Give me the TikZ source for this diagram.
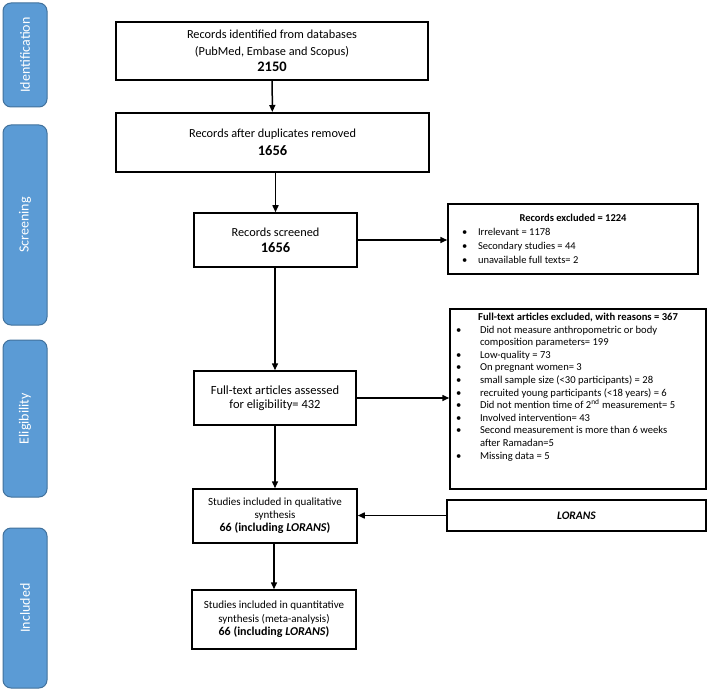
\documentclass[tikz,border=0pt]{standalone}
\usepackage{fontspec}
\setmainfont{Carlito}
\usetikzlibrary{arrows.meta}
\definecolor{phasefill}{HTML}{5B9BD5}
\definecolor{phaseline}{HTML}{41719C}
\newlength{\bulgap}
\setlength{\bulgap}{8pt}
\newcommand{\exitem}[1]{\par\hangindent=24pt\hangafter=1\noindent\hbox to 24pt{\hspace*{\bulgap}\textbullet\hss}#1}
\begin{document}
\begin{tikzpicture}[x=1pt,y=-1pt,line cap=butt,line join=miter,>={Triangle[length=7pt,width=6pt]}]
	\tikzset{phase/.style={draw=phaseline,fill=phasefill,line width=1pt,rounded corners=8pt,rotate=90,
			minimum height=44pt,text=white,font=\fontsize{14}{16}\selectfont},
		box/.style={draw,line width=1.5pt,align=center,inner sep=2pt},
		exbox/.style={draw,line width=1.5pt,inner xsep=6pt,inner ysep=0pt},
		link/.style={->,line width=1.5pt}
	}
	\useasboundingbox (0,0) rectangle (708,692);
	% phases
	\node[phase,minimum width=104pt] (pid) at (25,55) {Identification};
	\node[phase,minimum width=200pt] (psc) at (25,225) {Screening};
	\node[phase,minimum width=157pt] (pel) at (25,418.5) {Eligibility};
	\node[phase,minimum width=160pt] (pin) at (25,608) {Included};
	% main column
	\node[box,line width=2pt,minimum width=312pt,minimum height=58pt,font=\fontsize{12.3}{16.5}\selectfont] (ident) at (272,51)
		{Records identified from databases\\(PubMed, Embase and Scopus)\\{\fontsize{14.5}{16}\selectfont\bfseries 2150}};
	\node[box,line width=2pt,minimum width=313pt,minimum height=59pt,font=\fontsize{12.3}{18}\selectfont] (dupl) at (272.5,142.5)
		{Records after duplicates removed\\{\fontsize{14.5}{16}\selectfont\bfseries 1656}};
	\node[box,minimum width=163pt,minimum height=54pt,font=\fontsize{12.3}{16}\selectfont] (scrn) at (275.5,240)
		{Records screened\\{\fontsize{14.5}{16}\selectfont\bfseries 1656}};
	\node[box,minimum width=162pt,minimum height=54pt,font=\fontsize{12.5}{14.5}\selectfont] (full) at (275,398)
		{Full-text articles assessed\\for eligibility= 432};
	\node[box,minimum width=164pt,minimum height=54pt,font=\fontsize{11}{13}\selectfont] (qual) at (275,516)
		{Studies included in qualitative\\synthesis\\{\fontsize{12}{13}\selectfont\bfseries 66 (including \textit{LORANS})}};
	\node[box,minimum width=164pt,minimum height=59pt,font=\fontsize{11}{13.5}\selectfont] (quan) at (274,619.5)
		{Studies included in quantitative\\synthesis (meta-analysis)\\{\fontsize{12}{13.5}\selectfont\bfseries 66 (including \textit{LORANS})}};
	% exclusions
	\node[exbox,minimum width=250pt,minimum height=70pt] (exrec) at (573,239)
		{\parbox{238pt}{\fontsize{10.5}{14}\selectfont
				{\centering\bfseries Records excluded = 1224\par}
				\exitem{Irrelevant = 1178}
				\exitem{Secondary studies = 44}
				\exitem{unavailable full texts= 2}}};
	\node[exbox,minimum width=256pt,minimum height=180pt] (exfull) at (578,399)
		{\parbox[c][176pt][t]{244pt}{\fontsize{10.6}{12.6}\selectfont\setlength{\bulgap}{0pt}
				\vspace*{2pt}
				{\centering\bfseries Full-text articles excluded, with reasons = 367\par}
				\exitem{Did not measure anthropometric or body\\composition parameters= 199}
				\exitem{Low-quality = 73}
				\exitem{On pregnant women= 3}
				\exitem{small sample size (<30 participants) = 28}
				\exitem{recruited young participants (<18 years) = 6}
				\exitem{Did not mention time of 2\textsuperscript{nd} measurement= 5}
				\exitem{Involved intervention= 43}
				\exitem{Second measurement is more than 6 weeks\\after Ramadan=5}
				\exitem{Missing data = 5}}};
	\node[box,minimum width=259pt,minimum height=31pt,font=\fontsize{11.5}{13}\selectfont] (lorans) at (576.5,515.5)
		{\bfseries\itshape LORANS};
	% connectors
	\draw[link] (ident) -- (dupl);
	\draw[link] (dupl.south -| scrn.north) -- (scrn.north);
	\draw[link] (scrn.east) -- (scrn.east -| exrec.west);
	\draw[link] (scrn.south -| full.north) -- (full.north);
	\draw[link] (full.east) -- (full.east -| exfull.west);
	\draw[link] (full) -- (qual);
	\draw[link] (lorans.west) -- (lorans.west -| qual.east);
	\draw[link] (qual.south -| quan.north) -- (quan.north);
\end{tikzpicture}
\end{document}
